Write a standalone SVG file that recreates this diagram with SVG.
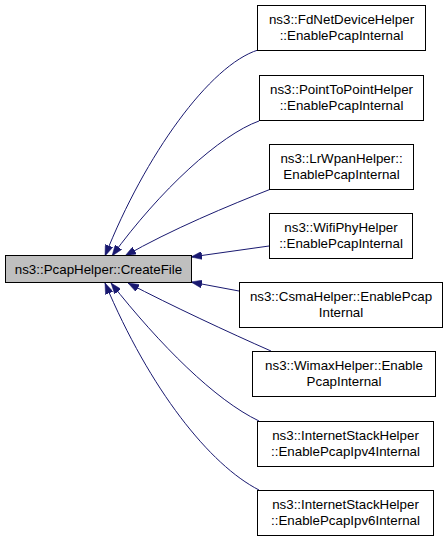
<svg xmlns="http://www.w3.org/2000/svg" width="448" height="541" viewBox="0 0 448 541">
<defs>
<style>
.box{fill:#ffffff;stroke:#000000;stroke-width:1}
.main{fill:#bfbfbf;stroke:#000000;stroke-width:1}
.lbl{font-family:"Liberation Sans",Arial,sans-serif;font-size:13.33px;fill:#000000;text-anchor:middle}
.edge{fill:none;stroke:#191970;stroke-width:1;marker-end:url(#arr)}
</style>
<marker id="arr" viewBox="0 0 11 8" refX="11" refY="4" markerWidth="11" markerHeight="8" markerUnits="userSpaceOnUse" orient="auto">
<polygon points="0,0 11,4 0,8" fill="#191970" stroke="#191970" stroke-width="0.5"/>
</marker>
</defs>
<rect width="448" height="541" fill="#ffffff"/>
<g id="edges">
<path class="edge" d="M258,50 C210,65 145,155 105,256"/>
<path class="edge" d="M259,121 C220,135 160,190 112,256"/>
<path class="edge" d="M271,189 C230,205 170,230 125,256"/>
<path class="edge" d="M269,246 L191,257"/>
<path class="edge" d="M239,291 L191,282"/>
<path class="edge" d="M271,351 C230,333 170,305 128,283"/>
<path class="edge" d="M259,421 C215,400 160,345 111,283"/>
<path class="edge" d="M259,490 C210,465 150,390 105,283"/>
</g>
<g id="node_main">
<rect class="main" x="5.5" y="255.5" width="186" height="27"/>
<text class="lbl" x="98.5" y="274">ns3::PcapHelper::CreateFile</text>
</g>
<g id="node_fdnet">
<rect class="box" x="257.5" y="5.5" width="168" height="45"/>
<text class="lbl" x="341.5" y="24">ns3::FdNetDeviceHelper</text>
<text class="lbl" x="341.5" y="40">::EnablePcapInternal</text>
</g>
<g id="node_p2p">
<rect class="box" x="259.5" y="75.5" width="164" height="45"/>
<text class="lbl" x="341.5" y="94">ns3::PointToPointHelper</text>
<text class="lbl" x="341.5" y="110">::EnablePcapInternal</text>
</g>
<g id="node_lrwpan">
<rect class="box" x="269.5" y="144.5" width="144" height="45"/>
<text class="lbl" x="341.5" y="163">ns3::LrWpanHelper::</text>
<text class="lbl" x="341.5" y="179">EnablePcapInternal</text>
</g>
<g id="node_wifi">
<rect class="box" x="269.5" y="213.5" width="143" height="45"/>
<text class="lbl" x="341" y="232">ns3::WifiPhyHelper</text>
<text class="lbl" x="341" y="248">::EnablePcapInternal</text>
</g>
<g id="node_csma">
<rect class="box" x="239.5" y="282.5" width="203" height="45"/>
<text class="lbl" x="341" y="301">ns3::CsmaHelper::EnablePcap</text>
<text class="lbl" x="341" y="317">Internal</text>
</g>
<g id="node_wimax">
<rect class="box" x="252.5" y="351.5" width="183" height="45"/>
<text class="lbl" x="344" y="370">ns3::WimaxHelper::Enable</text>
<text class="lbl" x="344" y="386">PcapInternal</text>
</g>
<g id="node_ipv4">
<rect class="box" x="257.5" y="421.5" width="176" height="45"/>
<text class="lbl" x="345.5" y="440">ns3::InternetStackHelper</text>
<text class="lbl" x="345.5" y="456">::EnablePcapIpv4Internal</text>
</g>
<g id="node_ipv6">
<rect class="box" x="257.5" y="490.5" width="176" height="45"/>
<text class="lbl" x="345.5" y="509">ns3::InternetStackHelper</text>
<text class="lbl" x="345.5" y="525">::EnablePcapIpv6Internal</text>
</g>
</svg>
